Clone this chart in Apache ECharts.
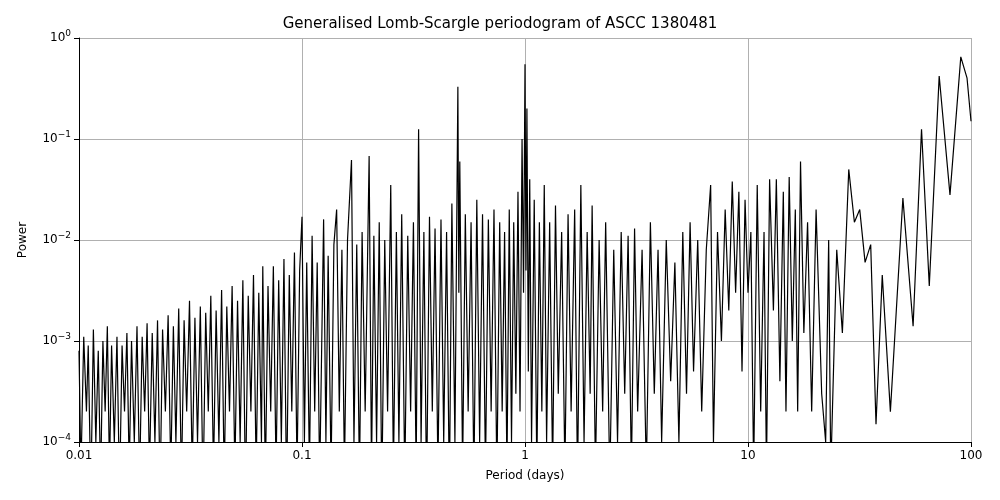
<!DOCTYPE html>
<html><head><meta charset="utf-8">
<script src="https://cdn.jsdelivr.net/npm/echarts@6/dist/echarts.min.js"></script>
<style>html,body{margin:0;background:#fff}#c{width:1000px;height:500px}</style></head>
<body><div id="c"></div>
<script>
const periods = [0.0100,0.0102,0.0105,0.0108,0.011,0.0113,0.0116,0.0119,0.0122,0.0125,0.0128,0.0131,0.0134,0.0137,0.014,0.0144,0.0148,0.0152,0.0156,0.016,0.0164,0.0168,0.0172,0.0177,0.0182,0.0187,0.0192,0.0197,0.0202,0.0207,0.0213,0.0219,0.0225,0.0231,0.0237,0.0244,0.0251,0.0258,0.0265,0.0272,0.028,0.0288,0.0296,0.0304,0.0313,0.0322,0.0331,0.034,0.035,0.036,0.037,0.038,0.039,0.0401,0.0412,0.0424,0.0436,0.0448,0.046,0.0473,0.0486,0.05,0.0514,0.0528,0.0543,0.0558,0.0574,0.059,0.0606,0.0623,0.064,0.0658,0.0667,0.0685,0.0704,0.0724,0.0744,0.0765,0.0786,0.0808,0.083,0.0853,0.0877,0.09,0.0925,0.095,0.0976,0.1,0.1025,0.105,
0.108,0.111,0.114,0.117,0.12,0.125,0.128,0.131,0.135,0.139,0.143,0.147,0.151,0.155,0.16,0.1667,0.171,0.176,0.181,0.186,0.192,0.2,0.205,0.21,0.216,0.222,0.228,0.235,0.242,0.25,0.257,0.265,0.272,0.28,0.289,0.298,0.307,0.316,0.325,0.3333,0.342,0.352,0.362,0.373,0.384,0.395,0.407,0.42,0.432,0.445,0.458,0.47,0.485,0.5,0.505,0.51,0.525,0.54,0.556,0.573,0.59,0.608,0.626,0.645,0.665,0.685,0.705,0.726,0.748,0.77,0.79,0.81,0.83,0.85,0.87,0.89,0.91,0.93,0.95,0.97,0.985,1.0,1.01,1.02,1.035,1.05,1.07,1.1,1.13,1.16,1.19,1.22,1.25,1.29,1.33,1.37,1.41,1.46,1.51,1.56,1.61,1.67,1.72,1.78,1.84,1.9,1.96,2.0,2.07,2.15,2.23,2.3,2.4,2.5,2.6,2.7,2.8,2.9,3.0,3.1,3.2,3.35,3.5,3.65,3.8,3.95,4.1,4.3,4.5,4.7,4.9,5.1,5.3,5.5,5.7,5.95,6.2,6.5,6.8,7.0,7.3,7.6,7.9,8.2,8.5,8.8,9.1,9.4,9.7,10.0,10.3,10.6,11.0,11.4,11.8,12.1,12.5,13.0,13.4,13.9,14.4,14.8,15.3,15.8,16.3,16.7,17.2,17.8,18.5,19.3,20.2,21.4,22.3,23,23.5,25,26.5,28.3,30,31.7,33.5,35.5,37.5,40,43.5,49.5,55,60,65,72,80.5,90,96,100];
const power = [0.0008,0.00005,0.0011,0.0002,0.0009,0.00003,0.0013,0.0001,0.0008,0.00004,0.001,0.0002,0.0014,0.00005,0.0009,0.0001,0.0011,0.00003,0.0009,0.0002,0.0012,0.00005,0.001,0.0001,0.0014,0.00004,0.0011,0.0002,0.0015,0.00005,0.0012,0.0001,0.0016,0.00003,0.0013,0.0002,0.0018,0.00005,0.0014,0.0001,0.0021,0.00004,0.0016,0.0002,0.0025,0.00005,0.0017,0.0001,0.0022,0.00003,0.0019,0.0002,0.0028,0.00005,0.002,0.0001,0.0032,0.00004,0.0022,0.0002,0.0035,0.00005,0.0025,0.0001,0.004,0.00003,0.0028,0.0002,0.0045,0.00005,0.003,0.0001,0.0055,0.00004,0.0035,0.0002,0.0055,0.00005,0.004,0.0001,0.0065,0.00003,0.0045,0.0002,0.0075,0.00005,0.005,0.017,0.0001,0.006,
0.00005,0.011,0.0002,0.006,0.00004,0.016,0.0001,0.007,0.00005,0.009,0.02,0.0002,0.008,0.00005,0.01,0.062,0.0001,0.009,0.00004,0.012,0.0002,0.068,0.00005,0.011,0.0001,0.015,0.00003,0.01,0.0002,0.035,0.00005,0.012,0.0001,0.018,0.00004,0.011,0.0002,0.015,0.00005,0.125,0.0001,0.012,0.00003,0.017,0.0002,0.013,0.00005,0.016,0.0001,0.012,0.00003,0.023,0.0001,0.33,0.003,0.06,0.00005,0.018,0.0002,0.015,0.00004,0.025,0.0001,0.018,0.00005,0.016,0.0002,0.02,0.00004,0.015,0.0002,0.012,0.00005,0.02,0.0001,0.015,0.0003,0.03,0.0002,0.1,0.003,0.55,0.005,0.2,0.0005,0.04,0.0001,0.025,0.00005,0.015,0.0002,0.035,0.0001,0.015,0.00005,0.022,0.0003,0.012,0.00005,0.018,0.0002,0.02,0.00004,0.035,0.0001,0.012,0.0003,0.022,0.00005,0.01,0.0002,0.015,0.00004,0.008,0.0001,0.012,0.0003,0.011,0.00005,0.013,0.0002,0.008,0.00005,0.015,0.0003,0.008,0.0001,0.01,0.0004,0.006,0.0001,0.012,0.0003,0.015,0.0005,0.01,0.0002,0.008,0.035,0.0001,0.012,0.001,0.02,0.002,0.038,0.003,0.03,0.0005,0.025,0.003,0.012,0.00005,0.035,0.0002,0.012,0.00005,0.04,0.002,0.04,0.0004,0.03,0.0002,0.042,0.001,0.02,0.0002,0.06,0.0012,0.015,0.0002,0.02,0.0003,0.0001,0.01,0.00005,0.008,0.0012,0.05,0.015,0.02,0.006,0.009,0.00015,0.0045,0.0002,0.026,0.0014,0.125,0.0035,0.42,0.028,0.65,0.4,0.15];
const yTicks = [-4,-3,-2,-1,0];
const data = periods.map((p,i)=>[p,power[i]]);
const chart = echarts.init(document.getElementById('c'));
chart.setOption({
  animation:false,
  title:{text:'Generalised Lomb-Scargle periodogram of ASCC 1380481',left:'center',top:12,textStyle:{fontFamily:'DejaVu Sans',fontSize:15,fontWeight:'normal',color:'#000'}},
  grid:{left:79,right:29,top:38,bottom:58},
  xAxis:{type:'log',min:0.01,max:100,logBase:10,name:'Period (days)',nameLocation:'middle',nameGap:28,
    nameTextStyle:{fontFamily:'DejaVu Sans',fontSize:12,color:'#000'},
    axisLine:{lineStyle:{color:'#000'}},axisTick:{inside:false,lineStyle:{color:'#000'}},
    splitLine:{show:true,lineStyle:{color:'#b0b0b0'}},
    axisLabel:{fontFamily:'DejaVu Sans',fontSize:12,color:'#000',formatter:v=>({0.01:'0.01',0.1:'0.1',1:'1',10:'10',100:'100'})[+v.toPrecision(3)]||''}},
  yAxis:{type:'log',min:1e-4,max:1,logBase:10,name:'Power',nameLocation:'middle',nameGap:50,
    nameTextStyle:{fontFamily:'DejaVu Sans',fontSize:12,color:'#000'},
    axisLine:{show:true,lineStyle:{color:'#000'}},axisTick:{show:true,lineStyle:{color:'#000'}},
    splitLine:{show:true,lineStyle:{color:'#b0b0b0'}},
    axisLabel:{fontFamily:'DejaVu Sans',fontSize:12,color:'#000',
      formatter:v=>{const e=Math.round(Math.log10(v));return '{b|10}{s|'+(e<0?'−'+(-e):e)+'}';},
      rich:{b:{fontFamily:'DejaVu Sans',fontSize:12,color:'#000'},s:{fontFamily:'DejaVu Sans',fontSize:9,color:'#000',verticalAlign:'top',padding:[0,0,8,0]}}}},
  series:[{type:'line',data:data,showSymbol:false,clip:true,lineStyle:{color:'#000',width:1.2}}]
});
</script></body></html>
